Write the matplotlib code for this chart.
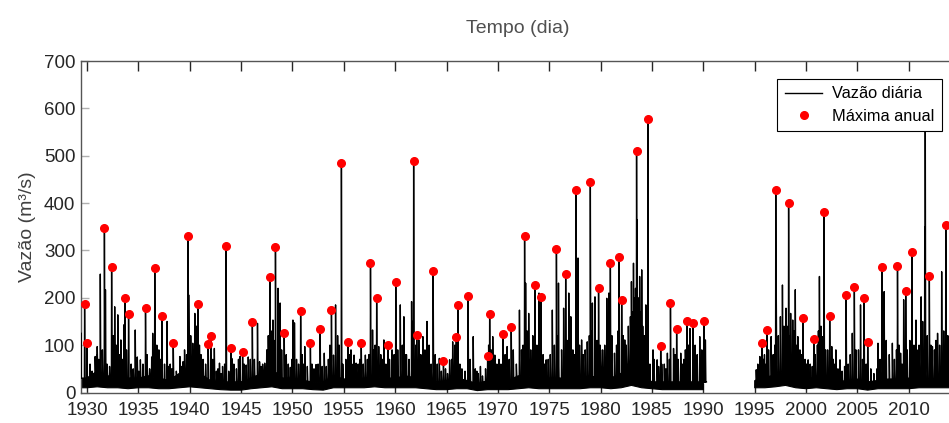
import numpy as np
import matplotlib
matplotlib.use('Agg')
import matplotlib.pyplot as plt

plt.rcParams['font.family'] = ['Liberation Sans', 'DejaVu Sans']

# Máximas anuais (ano decimal, m3/s)
anos_max = [1929.77, 1930.0, 1931.7, 1932.4, 1933.7, 1934.05, 1935.7, 1936.6, 1937.3, 1938.4,
            1939.85, 1940.8, 1941.8, 1942.05, 1943.55, 1944.0, 1945.15, 1946.1, 1947.8, 1948.35,
            1949.2, 1950.8, 1951.75, 1952.7, 1953.8, 1954.77, 1955.4, 1956.7, 1957.6, 1958.2,
            1959.3, 1960.06, 1961.8, 1962.1, 1963.7, 1964.7, 1965.95, 1966.1, 1967.1, 1969.0,
            1969.2, 1970.5, 1971.3, 1972.6, 1973.6, 1974.2, 1975.7, 1976.6, 1977.6, 1979.0,
            1979.8, 1980.95, 1981.8, 1982.05, 1983.5, 1984.6, 1985.85, 1986.8, 1987.4, 1988.4,
            1989.0, 1990.05, 1995.7, 1996.2, 1997.05, 1998.3, 1999.7, 2000.75, 2001.75, 2002.3,
            2003.9, 2004.7, 2005.65, 2006.0, 2007.4, 2008.9, 2009.7, 2010.3, 2011.6, 2012.0,
            2013.6]
vazao_max = [187, 104, 347, 266, 200, 166, 179, 262, 161, 104,
             331, 187, 102, 119, 310, 93, 86, 148, 244, 308,
             126, 172, 104, 134, 174, 484, 106, 104, 274, 199,
             100, 233, 489, 122, 257, 67, 118, 185, 204, 77,
             166, 123, 138, 331, 227, 201, 303, 250, 428, 444,
             220, 274, 286, 195, 509, 577, 98, 190, 135, 151,
             146, 150, 105, 131, 427, 400, 158, 112, 382, 162,
             206, 223, 200, 107, 265, 267, 214, 296, 640, 247,
             354]

# Outros picos grandes da vazão diária
anos_pico = [1929.4, 1930.8, 1931.0, 1931.3, 1931.8, 1932.7, 1933.0, 1933.3, 1933.6, 1934.7,
             1935.2, 1936.4, 1937.0, 1937.8, 1939.05, 1939.5, 1939.9, 1940.3, 1940.5, 1942.4,
             1942.9, 1943.2, 1944.1, 1944.9, 1945.5, 1946.6, 1947.3, 1948.1, 1948.6, 1948.8,
             1949.8, 1950.05, 1950.2, 1951.2, 1952.3, 1953.1, 1954.0, 1954.2, 1955.7, 1956.0,
             1956.2, 1957.1, 1957.8, 1958.4, 1958.9, 1959.7, 1960.5, 1960.85, 1961.6, 1962.3,
             1962.7, 1963.1, 1964.3, 1965.3, 1965.6, 1967.6, 1968.3, 1969.5, 1969.7, 1970.9,
             1972.1, 1972.7, 1973.0, 1974.0, 1974.7, 1975.3, 1975.9, 1976.4, 1976.9, 1977.1,
             1977.8, 1978.15, 1978.7, 1979.2, 1979.45, 1980.0, 1980.6, 1980.8, 1981.35, 1982.35,
             1983.0, 1983.2, 1983.55, 1983.8, 1984.0, 1984.4, 1985.1, 1985.5, 1986.5, 1987.1,
             1987.8, 1988.7, 1989.65, 1990.2, 1995.15, 1995.5, 1996.6, 1997.1, 1997.7, 1998.05,
             1998.5, 1998.7, 1998.95, 1999.2, 2000.2, 2001.3, 2001.6, 2002.5, 2002.9, 2003.3,
             2004.5, 2005.3, 2007.0, 2007.6, 2008.4, 2009.2, 2009.5, 2010.7, 2011.2, 2011.55,
             2012.3, 2012.8, 2013.2]
vazao_pico = [126, 76, 97, 250, 217, 181, 164, 111, 143, 132,
              69, 125, 90, 150, 76, 90, 206, 104, 167, 93,
              62, 55, 72, 76, 58, 146, 62, 153, 220, 189,
              53, 153, 147, 97, 59, 83, 79, 185, 90, 79,
              62, 79, 132, 97, 111, 90, 185, 160, 192, 111,
              118, 150, 72, 69, 107, 118, 55, 118, 79, 97,
              174, 231, 167, 210, 69, 174, 231, 178, 210, 160,
              284, 111, 107, 189, 202, 90, 199, 210, 83, 111,
              234, 273, 365, 245, 259, 185, 90, 69, 83, 93,
              83, 135, 118, 111, 48, 76, 118, 210, 227, 178,
              167, 153, 217, 118, 69, 245, 118, 97, 90, 69,
              125, 185, 104, 213, 104, 83, 196, 153, 202, 350,
              97, 125, 255]

# Picos menores (massa densa da série)
anos_menor = [1930.3, 1930.5, 1930.95, 1931.15, 1931.5, 1931.95, 1932.2, 1932.55, 1932.85,
              1933.15, 1933.45, 1933.85, 1934.3, 1934.5, 1934.9, 1935.05, 1935.45, 1935.85,
              1936.1, 1936.3, 1936.8, 1937.15, 1937.55, 1937.95, 1938.1, 1938.25, 1938.7,
              1939.2, 1939.35, 1939.7, 1940.1, 1940.4, 1940.65, 1940.95, 1941.1, 1941.3, 1941.55,
              1942.25, 1942.6, 1942.75, 1943.05, 1943.4, 1943.8, 1944.3, 1944.55, 1944.75,
              1945.3, 1945.7, 1945.9, 1946.3, 1946.8, 1946.95, 1947.1, 1947.5, 1947.65,
              1948.0, 1948.2, 1948.95, 1949.4, 1949.6, 1949.95, 1950.4, 1950.6, 1950.95,
              1951.05, 1951.45, 1951.9, 1952.1, 1952.5, 1952.9, 1953.3, 1953.5, 1953.65,
              1954.4, 1954.55, 1954.9, 1955.2, 1955.55, 1955.9, 1956.4, 1956.55, 1956.9,
              1957.3, 1957.45, 1957.95, 1958.05, 1958.6, 1958.75, 1959.1, 1959.45, 1959.9,
              1960.25, 1960.7, 1960.95, 1961.1, 1961.35, 1961.7, 1962.0, 1962.5, 1962.9,
              1963.3, 1963.5, 1963.9, 1964.1, 1964.5, 1964.9, 1965.1, 1965.5, 1965.8,
              1966.3, 1966.5, 1966.8, 1967.3, 1967.8, 1967.95, 1968.1, 1968.5, 1968.8,
              1969.1, 1969.35, 1969.9, 1970.1, 1970.3, 1970.7, 1971.1, 1971.5, 1971.8,
              1972.3, 1972.45, 1972.85, 1973.2, 1973.4, 1973.8, 1974.4, 1974.55, 1974.9,
              1975.1, 1975.5, 1975.85, 1976.2, 1976.75, 1976.95, 1977.3, 1977.45, 1977.95,
              1978.3, 1978.5, 1978.9, 1979.1, 1979.65, 1979.95, 1980.2, 1980.4, 1980.75,
              1981.1, 1981.55, 1981.7, 1982.2, 1982.5, 1982.7, 1982.9,
              1983.1, 1983.3, 1983.4, 1983.65, 1983.9, 1984.1, 1984.25, 1984.5, 1984.8,
              1985.2, 1985.65, 1985.95, 1986.2, 1986.35, 1986.7, 1987.25, 1987.55, 1987.95,
              1988.1, 1988.25, 1988.55, 1989.2, 1989.4, 1989.85, 1990.15,
              1995.3, 1995.85, 1995.95, 1996.1, 1996.35, 1996.8, 1996.95, 1997.3, 1997.5, 1997.85,
              1998.15, 1998.4, 1998.85, 1999.1, 1999.4, 1999.55, 1999.9, 2000.05, 2000.4, 2000.6,
              2000.9, 2001.1, 2001.2, 2001.45, 2001.9, 2002.1, 2002.65, 2002.8, 2003.1, 2003.5,
              2003.75, 2004.1, 2004.3, 2004.85, 2005.1, 2005.5, 2005.85, 2006.3, 2006.6, 2006.9,
              2007.2, 2007.5, 2007.8, 2008.1, 2008.6, 2008.8, 2009.05, 2009.35, 2009.85, 2010.1,
              2010.5, 2010.9, 2011.0, 2011.35, 2011.8, 2012.15, 2012.5, 2012.65, 2013.0, 2013.4,
              2013.8]
vazao_menor = [60, 45, 80, 70, 90, 60, 55, 120, 100,
               80, 70, 90, 60, 50, 75, 45, 60, 80,
               50, 75, 100, 70, 60, 55, 60, 50, 45,
               55, 65, 80, 120, 90, 140, 100, 80, 70, 60,
               70, 45, 50, 40, 60, 45, 60, 50, 70,
               60, 75, 70, 70, 65, 55, 60, 90, 120,
               130, 110, 90, 80, 60, 70, 70, 60, 80,
               60, 55, 60, 50, 60, 55, 55, 70, 100,
               120, 100, 60, 70, 80, 60, 60, 70, 60,
               70, 80, 90, 100, 80, 70, 60, 70, 80,
               90, 100, 80, 80, 70, 150, 100, 80, 90,
               100, 60, 80, 60, 45, 50, 40, 70, 100,
               60, 50, 45, 70, 50, 45, 40, 35, 50,
               100, 90, 60, 70, 60, 80, 70, 90, 60,
               90, 100, 130, 90, 120, 100, 80, 60, 70,
               80, 100, 120, 90, 110, 100, 90, 80, 100,
               80, 90, 120, 130, 110, 100, 90, 100, 130,
               120, 100, 130, 120, 100, 140, 160,
               170, 200, 220, 200, 170, 140, 120, 100, 60,
               70, 55, 60, 60, 50, 70, 80, 70, 60,
               70, 90, 100, 100, 80, 90, 70,
               60, 70, 80, 60, 90, 80, 100, 120, 160, 140,
               140, 120, 130, 100, 90, 80, 70, 60, 60, 55,
               80, 100, 130, 140, 90, 90, 70, 60, 50, 45,
               55, 60, 80, 90, 90, 70, 60, 50, 40, 50,
               70, 100, 110, 80, 70, 90, 100, 60, 90, 110,
               100, 90, 100, 150, 120, 100, 90, 110, 100, 130,
               120]

# Faixa de vazões baixas por ano (mínimo e topo da massa densa)
anos_faixa = list(range(1929, 2015))
faixa_min = [10, 10, 12, 10, 10, 8, 10, 10, 8, 8,
             10, 12, 10, 8, 6, 5, 5, 8, 10, 12,
             8, 8, 8, 6, 5, 10, 10, 10, 10, 12,
             10, 10, 10, 10, 8, 6, 6, 8, 8, 4,
             6, 6, 6, 8, 10, 8, 8, 8, 8, 8,
             10, 10, 8, 10, 15, 10, 8, 6, 6, 6,
             6, 6, np.nan, np.nan, np.nan, np.nan, 10, 10, 12, 15,
             10, 8, 10, 8, 6, 8, 8, 5, 8, 8,
             8, 8, 10, 10, 10, 10]
faixa_sup = [30, 30, 45, 35, 30, 30, 30, 35, 30, 25,
             40, 50, 40, 25, 22, 22, 22, 30, 40, 50,
             30, 30, 25, 22, 22, 35, 28, 28, 30, 35,
             30, 30, 35, 30, 25, 22, 25, 30, 25, 18,
             25, 25, 25, 35, 35, 30, 30, 30, 30, 30,
             35, 30, 30, 40, 70, 35, 22, 22, 22, 22,
             22, 22, np.nan, np.nan, np.nan, np.nan, 25, 28, 40, 45,
             35, 25, 35, 25, 22, 25, 28, 22, 25, 28,
             28, 30, 30, 28, 30, 30]

inicio, fim_1, inicio_2, fim = 1929.42, 1990.3, 1995.1, 2014.4

# Monta a série diária a partir dos picos
anos_f = np.array(anos_faixa, dtype=float)
sup_f = np.array(faixa_sup, dtype=float)
ok = ~np.isnan(sup_f)

def topo(t):
    return np.interp(t, anos_f[ok], sup_f[ok])

picos = sorted(zip(anos_pico + anos_max + anos_menor,
                   vazao_pico + vazao_max + vazao_menor))
tx, vy = [inicio], [topo(inicio)]
for t, v in picos:
    if t > fim_1 and tx[-1] <= fim_1:
        tx += [fim_1, np.nan, inicio_2]
        vy += [topo(fim_1), np.nan, topo(inicio_2)]
    tx += [t - 0.02, t, t + 0.045]
    vy += [topo(t - 0.02), v, topo(t + 0.045)]
tx.append(fim)
vy.append(topo(fim))

fig = plt.figure(figsize=(9.49, 4.23), dpi=100)
ax = fig.add_axes([81 / 949, 1 - 392.5 / 423, 873 / 949, 331.5 / 423])

ax.fill_between(anos_f, faixa_min, faixa_sup, color='black', lw=0.8, zorder=2)
ax.plot(tx, vy, color='black', lw=1.0, label='Vazão diária', zorder=3)
ax.plot(anos_max, vazao_max, 'o', color='red', markersize=5.5, lw=0,
        label='Máxima anual', zorder=4)

ax.set_xlim(inicio, fim)
ax.set_ylim(0, 700)
ax.set_xticks(range(1930, 2015, 5))
ax.set_yticks(range(0, 701, 100))
ax.tick_params(axis='x', direction='in', top=True, length=7, width=1,
               color='#262626', labelcolor='#262626', labelsize=13.5, pad=7)
ax.tick_params(axis='y', direction='in', length=6, width=1,
               color='#b0b0b0', labelcolor='#262626', labelsize=13.5, pad=4)
for s in ['left', 'top', 'bottom']:
    ax.spines[s].set_color('#555555')
    ax.spines[s].set_linewidth(1)
ax.spines['right'].set_visible(False)

ax.set_title('Tempo (dia)', fontsize=14, color='#505050', pad=20)
ax.set_ylabel('Vazão (m³/s)', fontsize=14, color='#404040', labelpad=6)

leg = ax.legend(loc='upper right', bbox_to_anchor=(942 / 949, 1 - 79 / 423),
                bbox_transform=fig.transFigure, borderaxespad=0, fancybox=False,
                framealpha=1, edgecolor='black', fontsize=11.8, handlelength=2.3,
                handletextpad=0.6, borderpad=0.45, labelspacing=0.45)
leg.get_frame().set_linewidth(0.8)
leg.set_zorder(10)

fig.savefig('out.png', dpi=100)
